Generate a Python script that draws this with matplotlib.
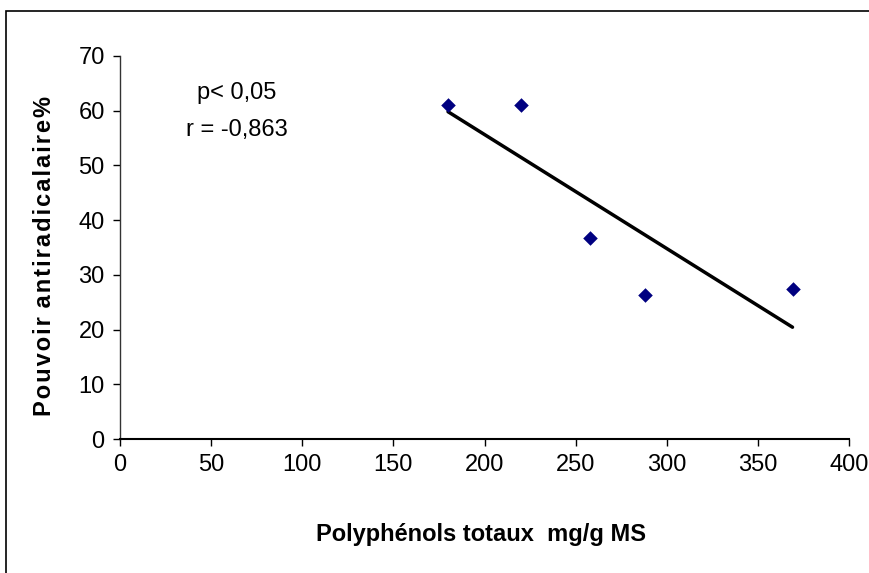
import numpy as np
import matplotlib
matplotlib.use("Agg")
import matplotlib.pyplot as plt
from matplotlib.patches import Rectangle

polyphenols = [180, 220, 258, 288, 369]
antiradical = [61.0, 61.0, 36.8, 26.3, 27.5]
x_ticks = [0, 50, 100, 150, 200, 250, 300, 350, 400]
y_ticks = [0, 10, 20, 30, 40, 50, 60, 70]

plt.rcParams['font.family'] = ['Liberation Sans', 'DejaVu Sans']

fig = plt.figure(figsize=(8.7, 5.73), dpi=100)
ax = fig.add_axes([120/870, 1-439/573, (849-120)/870, (439-56)/573])

ax.scatter(polyphenols, antiradical, marker='D', s=55, color='#000080', zorder=3, linewidths=0)
coef = np.polyfit(polyphenols, antiradical, 1)
xs = np.array([min(polyphenols), max(polyphenols)])
ax.plot(xs, np.polyval(coef, xs), color='black', lw=2.5, zorder=2, solid_capstyle='round')

ax.set_xlim(0, 400)
ax.set_ylim(0, 70)
ax.set_xticks(x_ticks)
ax.set_yticks(y_ticks)
ax.tick_params(axis='both', labelsize=17, direction='out', length=5, width=1, colors='black', pad=6)
for s in ['top', 'right']:
    ax.spines[s].set_visible(False)
ax.spines['left'].set_linewidth(1)
ax.spines['left'].set_color('#333333')
ax.spines['bottom'].set_linewidth(1.5)

fig.text(481/870, 1-535/573, 'Polyphénols totaux  mg/g MS', fontsize=17, fontweight='bold',
         ha='center', va='center')
ylab = '\u200a'.join('Pouvoir antiradicalaire%').replace(' \u200a', ' ')
fig.text(45/870, 1-256/573, ylab, rotation=90,
         fontsize=17, fontweight='bold', ha='center', va='center')

fig.text(237/870, 1-93/573, 'p< 0,05', fontsize=17, ha='center', va='center')
fig.text(237/870, 1-130/573, 'r = -0,863', fontsize=17, ha='center', va='center')

fig.patches.append(Rectangle((6/870, -0.1), 1.0, 1-11/573+0.1, transform=fig.transFigure,
                             fill=False, edgecolor='black', lw=1.2))

fig.savefig('out.png', dpi=100)
